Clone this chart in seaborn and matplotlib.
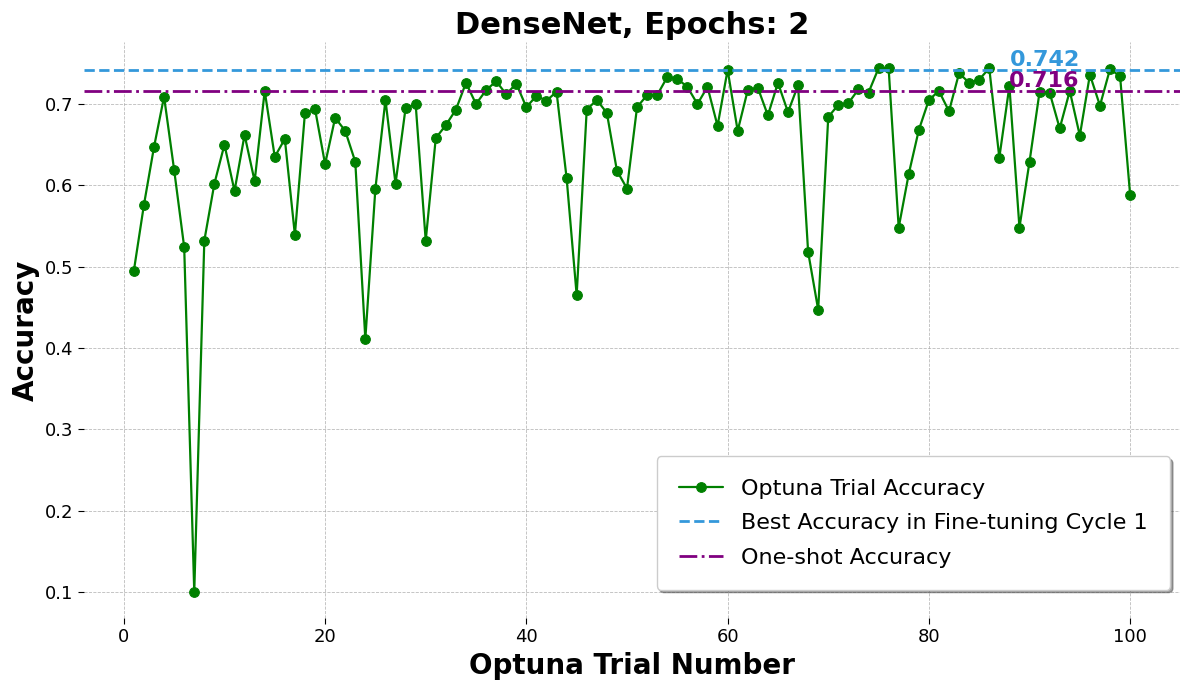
import matplotlib
matplotlib.use("Agg")
import matplotlib.pyplot as plt
import seaborn as sns
import numpy as np
import pandas as pd

trials = list(range(1, 101))
accuracy = [
    0.495, 0.576, 0.647, 0.709, 0.619, 0.524, 0.100, 0.532, 0.602, 0.650,
    0.593, 0.662, 0.605, 0.716, 0.635, 0.657, 0.539, 0.689, 0.694, 0.626,
    0.683, 0.667, 0.629, 0.411, 0.596, 0.705, 0.602, 0.695, 0.700, 0.532,
    0.658, 0.674, 0.693, 0.726, 0.700, 0.717, 0.728, 0.712, 0.725, 0.696,
    0.710, 0.704, 0.715, 0.609, 0.465, 0.693, 0.705, 0.689, 0.618, 0.596,
    0.696, 0.711, 0.711, 0.733, 0.731, 0.721, 0.700, 0.721, 0.673, 0.742,
    0.667, 0.717, 0.720, 0.686, 0.726, 0.690, 0.723, 0.518, 0.447, 0.684,
    0.699, 0.701, 0.718, 0.714, 0.744, 0.744, 0.548, 0.614, 0.668, 0.705,
    0.716, 0.691, 0.738, 0.726, 0.730, 0.744, 0.634, 0.722, 0.548, 0.629,
    0.715, 0.714, 0.670, 0.716, 0.661, 0.736, 0.698, 0.743, 0.734, 0.588,
]
best_acc = 0.742
oneshot_acc = 0.716
labels = ["Optuna Trial Accuracy", "Best Accuracy in Fine-tuning Cycle 1", "One-shot Accuracy"]

sns.set_style("white")
plt.rcParams['font.family'] = ['DejaVu Sans']
plt.rcParams['text.color'] = 'black'
plt.rcParams['axes.labelcolor'] = 'black'
plt.rcParams['xtick.color'] = 'black'
plt.rcParams['ytick.color'] = 'black'

df = pd.DataFrame({"trial": trials, "acc": accuracy})

fig, ax = plt.subplots(figsize=(11.89, 6.9), dpi=100)
fig.subplots_adjust(left=0.0707, right=0.9924, top=0.9391, bottom=0.1043)
sns.lineplot(data=df, x="trial", y="acc", marker="o", color="green", markersize=7,
             markeredgecolor="green", linewidth=1.6, label=labels[0], ax=ax)
ax.axhline(best_acc, color="#3498db", linestyle="--", linewidth=2, label=labels[1])
ax.axhline(oneshot_acc, color="purple", linestyle="-.", linewidth=2, label=labels[2])

ax.text(95, best_acc, f"{best_acc:.3f}", color="#3498db", fontsize=16, fontweight="bold",
        ha="right", va="bottom")
ax.text(95, oneshot_acc, f"{oneshot_acc:.3f}", color="purple", fontsize=16, fontweight="bold",
        ha="right", va="bottom")

ax.set_title("DenseNet, Epochs: 2", fontsize=22, fontweight="bold", color="black")
ax.set_xlabel("Optuna Trial Number", fontsize=20, fontweight="bold")
ax.set_ylabel("Accuracy", fontsize=20, fontweight="bold")
ax.tick_params(axis="both", labelsize=13, length=4, left=True, bottom=True)
ax.grid(True, linestyle="--", linewidth=0.6, color="#aaaaaa", alpha=0.8)
for s in ax.spines.values():
    s.set_visible(False)

ax.legend(loc="lower right", bbox_to_anchor=(0.991, 0.049), borderaxespad=0,
          fontsize=16, frameon=True, shadow=True, fancybox=True,
          borderpad=1.0, labelspacing=0.65)

fig.savefig("out.png", dpi=100)
